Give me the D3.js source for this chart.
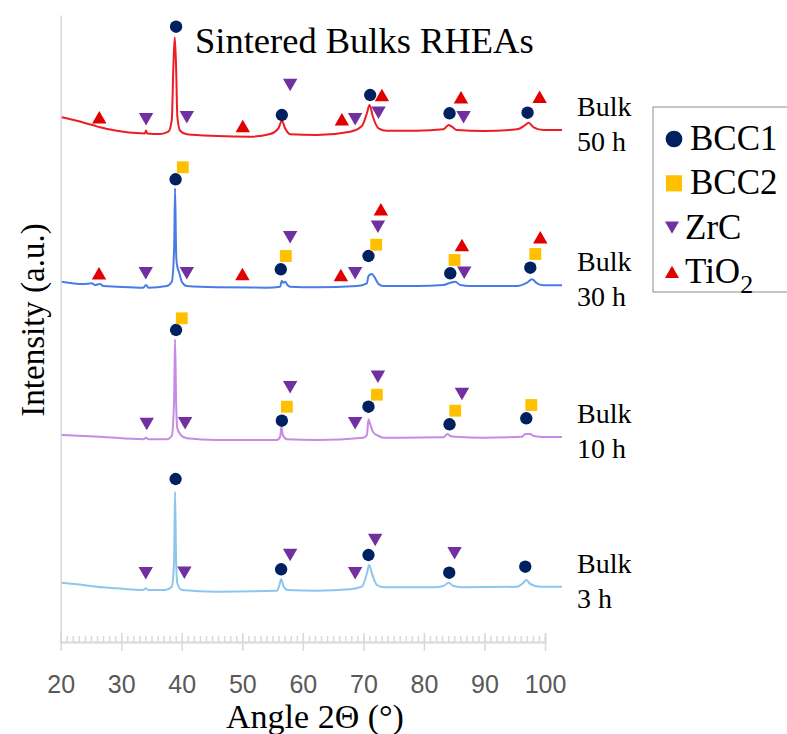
<!DOCTYPE html>
<html>
<head>
<meta charset="utf-8">
<script src="https://cdn.jsdelivr.net/npm/d3@7"></script>
<style>
  body { margin: 0; background: #fff; }
  svg text { font-family: "Liberation Serif", "Times New Roman", serif; }
</style>
</head>
<body>
<svg id="chart" width="787" height="734"></svg>
<script>
// XRD scans: [angle 2theta, stacked intensity a.u.]
const scan3h = [
  [20.17, 59.3], [23.74, 57], [26.78, 54.7], [29.26, 53.7], [33.65, 52], [34.05, 53.7], [34.48, 52],
  [37.24, 52], [38.35, 55.3], [38.73, 82], [38.89, 150.3], [39.06, 82], [39.27, 58.7], [40.0, 52],
  [45.79, 50.3], [55.7, 51.3], [56.13, 57], [56.41, 62.7], [56.79, 56], [57.45, 52], [62.31, 51.3],
  [67.82, 52.7], [69.75, 55.3], [70.58, 68.7], [70.96, 77], [71.4, 68.7], [72.23, 57], [73.32, 54.7],
  [81.59, 54.7], [83.24, 56], [84.07, 59.3], [84.89, 56], [86.55, 54.7], [95.37, 55.3], [96.36, 58.7],
  [96.91, 62], [97.57, 58], [99.22, 55.3], [102.81, 55.3]
];
const scan10h = [
  [20.17, 207], [26.5, 205.3], [33.65, 202.7], [34.1, 204.3], [34.48, 202.7], [37.52, 202.7],
  [38.35, 206], [38.73, 242], [38.89, 302.7], [39.06, 242], [39.27, 213.7], [39.83, 207], [40.83, 203.7],
  [45.79, 202], [55.7, 202], [56.25, 205.3], [56.46, 215.3], [56.69, 207], [57.36, 202.7], [62.31, 202],
  [70.02, 204.3], [70.58, 207], [70.84, 222.7], [71.12, 218], [71.57, 210.3], [72.5, 206], [73.32, 204.3],
  [83.24, 204.7], [83.9, 208], [84.35, 206], [85.17, 205.3], [89.85, 204.3], [96.2, 205.3], [96.74, 208],
  [97.57, 208], [98.12, 206], [99.77, 205], [102.81, 205]
];
const scan30h = [
  [20.17, 360.3], [23.74, 358], [25.12, 358.7], [25.67, 357], [26.5, 358], [27.04, 356], [29.26, 355.3],
  [33.65, 354.3], [34.1, 357], [34.48, 354.3], [37.52, 356], [38.35, 360.3], [38.73, 392], [38.89, 453.7],
  [39.06, 392], [39.17, 378.7], [39.6, 368.7], [40.0, 360.3], [40.83, 356], [45.79, 354.7], [54.05, 354.3],
  [56.25, 355.3], [56.53, 361.3], [56.79, 359.3], [57.07, 360.3], [57.45, 357], [57.9, 355.3], [62.31, 354.7],
  [68.93, 356], [70.58, 358.7], [70.84, 366], [71.4, 368], [71.79, 365.3], [72.5, 358], [73.32, 356],
  [78.84, 356], [83.24, 357], [84.35, 359.3], [85.17, 360.3], [86.0, 357], [87.65, 356], [95.37, 356],
  [97.02, 359.3], [97.85, 362.7], [98.68, 358.7], [99.77, 356.7], [102.81, 356.7]
];
const scan50h = [
  [20.17, 524.7], [22.64, 521.3], [25.39, 516.7], [26.5, 514.7], [29.26, 511.3], [33.11, 508.7],
  [33.9, 508.5], [34.1, 511.5], [34.3, 508.5], [36.41, 508], [37.79, 510.3], [38.35, 522], [38.61, 575.3],
  [38.84, 604.7], [39.06, 575.3], [39.27, 525.3], [39.72, 511.3], [40.83, 507.7], [45.79, 506],
  [51.29, 505.3], [54.6, 508], [55.97, 513.7], [56.53, 521.3], [57.07, 513.7], [57.9, 507.7], [62.31, 507],
  [67.82, 510.3], [69.75, 516], [70.58, 528.7], [71.01, 537], [71.57, 525.3], [72.5, 513.7], [73.88, 511.3],
  [78.84, 511.3], [83.24, 512.7], [84.07, 517], [84.63, 515.3], [85.45, 512], [89.85, 511], [95.37, 512.7],
  [96.74, 517], [97.29, 519.3], [98.12, 514.7], [99.77, 512], [102.81, 512]
];

const scans = [scan3h, scan10h, scan30h, scan50h];
const scanNames = ['3 h', '10 h', '30 h', '50 h'];

// phase markers, [angle, intensity]
const bcc1Marks = [
  [39.06, 615.3], [56.53, 527], [71.12, 547], [84.23, 528.7], [97.12, 529.3],
  [38.98, 462.7], [56.36, 372.7], [70.84, 386], [84.35, 368.7], [97.57, 374.3],
  [39.06, 312], [56.53, 221.3], [70.84, 235.3], [84.23, 217.7], [96.91, 223.7],
  [38.98, 163], [56.41, 72.7], [70.84, 87], [84.18, 69.3], [96.74, 75.3]
];
const bcc2Marks = [
  [40.17, 474.7], [57.19, 386], [72.12, 397.3], [85.06, 382], [98.4, 388],
  [40.0, 323.7], [57.36, 235.3], [72.23, 247.3], [85.17, 231.3], [97.74, 237]
];
const zrcMarks = [
  [34.1, 522.7], [40.83, 524.7], [57.9, 557], [68.64, 522.7], [72.5, 529.3], [86.55, 524.7],
  [34.05, 368.7], [40.83, 368.7], [57.9, 404.7], [68.64, 368.7], [72.4, 415.3], [86.66, 369.3],
  [34.21, 218], [40.55, 218.7], [57.9, 254.7], [68.64, 218.7], [72.4, 265.3], [86.28, 248],
  [34.05, 68.7], [40.43, 69.3], [57.9, 87], [68.64, 68.7], [71.95, 102], [85.06, 88.7]
];
const tio2Marks = [
  [26.38, 524.7], [50.08, 516], [66.45, 522.7], [73.06, 547], [86.12, 544.7], [99.11, 545.3],
  [26.33, 368.7], [50.02, 368], [66.28, 367], [72.89, 432.7], [86.28, 397], [99.22, 404.7]
];

const phaseNames = ['BCC1', 'BCC2', 'ZrC', 'TiO2'];
const xTicks = [20, 30, 40, 50, 60, 70, 80, 90, 100];

// styling
const scanColors = ['#8cc6ef', '#c58be6', '#4a7ce6', '#ee1c24'];
const phaseColors = ['#002060', '#ffc000', '#7030a0', '#e00000'];
const axisColor = '#d9d9d9';

const svg = d3.select('#chart');

const x = d3.scaleLinear().domain([20, 100]).range([60.7, 545]);
const y = d3.scaleLinear().domain([0, 627]).range([642, 15]);

// axes
const xAxisG = svg.append('g').attr('transform', 'translate(0, 642)');

xAxisG.append('g')
  .call(d3.axisTop(x).tickValues(d3.range(20, 101, 1)).tickSize(6).tickFormat(''))
;
xAxisG.append('g')
  .call(d3.axisTop(x).tickValues(xTicks).tickSize(9).tickFormat(''))
;
xAxisG.append('g')
  .call(d3.axisBottom(x).tickValues(xTicks).tickSize(9).tickSizeOuter(0).tickPadding(24))
  .call(g => g.selectAll('text')
    .attr('fill', '#595959')
    .style('font-family', '"Liberation Sans", Arial, sans-serif')
    .style('font-size', '25px'))
;

svg.append('g')
  .attr('transform', 'translate(60.7, 0)')
  .call(d3.axisLeft(y).tickValues([]).tickSizeOuter(0))
;

svg.selectAll('.domain, .tick line')
  .attr('stroke', axisColor)
  .attr('stroke-width', 1.5)
;

// scans
const line = d3.line()
  .x(d => x(d[0]))
  .y(d => y(d[1]))
  .curve(d3.curveMonotoneX)
;

svg.selectAll('.scan')
  .data(scans)
  .enter()
  .append('path')
  .attr('class', 'scan')
  .attr('d', line)
  .attr('fill', 'none')
  .attr('stroke', (d, i) => scanColors[i])
  .attr('stroke-width', 2)
;

// phase markers
function markSymbols(circle, square, tri) {
  const shift = Math.sqrt(tri / (3 * Math.sqrt(3))) / 2;
  return [
    { path: d3.symbol(d3.symbolCircle, circle)(), rot: 0, dy: 0 },
    { path: d3.symbol(d3.symbolSquare, square)(), rot: 0, dy: 0 },
    { path: d3.symbol(d3.symbolTriangle, tri)(), rot: 180, dy: -shift },
    { path: d3.symbol(d3.symbolTriangle, tri)(), rot: 0, dy: shift }
  ];
}
const plotSymbols = markSymbols(120, 140, 90);
const legendSymbols = markSymbols(220, 260, 85);

[bcc1Marks, bcc2Marks, zrcMarks, tio2Marks].forEach((marks, i) => {
  svg.append('g')
    .selectAll('path')
    .data(marks)
    .enter()
    .append('path')
    .attr('d', plotSymbols[i].path)
    .attr('transform', d => `translate(${x(d[0])}, ${y(d[1]) + plotSymbols[i].dy}) rotate(${plotSymbols[i].rot})`)
    .attr('fill', phaseColors[i])
  ;
});

// scan labels, placed by the end of each scan
scans.forEach((scan, i) => {
  const endY = y(scan[scan.length - 1][1]);
  const t = svg.append('text')
    .attr('x', 577)
    .attr('y', endY - 14)
    .style('font-size', '28px')
    .attr('fill', '#000')
  ;
  t.append('tspan').attr('x', 577).text('Bulk');
  t.append('tspan').attr('x', 577).attr('dy', 35).text(scanNames[i]);
});

// legend
const legend = svg.append('g');

legend.append('rect')
  .attr('x', 653)
  .attr('y', 107)
  .attr('width', 150)
  .attr('height', 185)
  .attr('fill', '#fff')
  .attr('stroke', '#8c8c8c')
  .attr('stroke-width', 1)
;

phaseNames.forEach((name, i) => {
  const base = 150 + i * 44.3;
  legend.append('path')
    .attr('d', legendSymbols[i].path)
    .attr('transform', `translate(${i < 2 ? 674 : 672}, ${base - 11 + legendSymbols[i].dy}) rotate(${legendSymbols[i].rot})`)
    .attr('fill', phaseColors[i])
  ;
  const t = legend.append('text')
    .attr('x', i < 2 ? 690 : 685)
    .attr('y', base)
    .style('font-size', '35px')
  ;
  if (name === 'TiO2') {
    t.append('tspan').text('TiO');
    t.append('tspan').attr('dy', 10).style('font-size', '26px').text('2');
  } else {
    t.text(name);
  }
});

// titles
svg.append('text')
  .attr('x', 195)
  .attr('y', 53)
  .style('font-size', '36.5px')
  .text('Sintered Bulks RHEAs')
;

svg.append('text')
  .attr('x', 315)
  .attr('y', 728)
  .attr('text-anchor', 'middle')
  .style('font-size', '34px')
  .text('Angle 2\u0398 (\u00b0)')
;

svg.append('text')
  .attr('transform', 'translate(44, 320) rotate(-90)')
  .attr('text-anchor', 'middle')
  .style('font-size', '33px')
  .text('Intensity (a.u.)')
;
</script>
</body>
</html>
